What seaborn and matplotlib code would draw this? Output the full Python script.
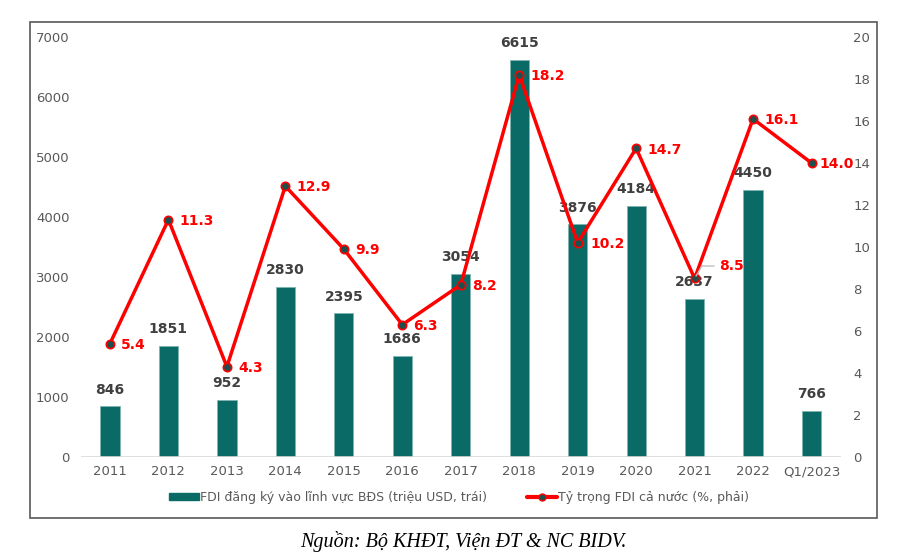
import matplotlib
matplotlib.use("Agg")
import matplotlib.pyplot as plt
import seaborn as sns
import pandas as pd
import numpy as np
from matplotlib.patches import Rectangle, Patch
from matplotlib.lines import Line2D

# data
years = ['2011', '2012', '2013', '2014', '2015', '2016', '2017', '2018',
         '2019', '2020', '2021', '2022', 'Q1/2023']
fdi_bds = [846, 1851, 952, 2830, 2395, 1686, 3054, 6615, 3876, 4184, 2637, 4450, 766]
ty_trong = [5.4, 11.3, 4.3, 12.9, 9.9, 6.3, 8.2, 18.2, 10.2, 14.7, 8.5, 16.1, 14.0]

bar_color = '#0a6b66'
line_color = '#ff0000'
txt_color = '#595959'

sns.set_style('white')
plt.rcParams['font.family'] = ['DejaVu Sans']

df = pd.DataFrame({'Nam': years, 'FDI': fdi_bds, 'TyTrong': ty_trong})

fig = plt.figure(figsize=(9, 5.58), dpi=100)
ax = fig.add_axes([0.0897, 0.181, 0.8445, 0.7527])

sns.barplot(data=df, x='Nam', y='FDI', ax=ax, color=bar_color, width=0.33,
            edgecolor='#7fb5b1', linewidth=0.6, saturation=1)
ax.set_ylim(0, 7000)
ax.set_xlim(-0.5, len(years) - 0.5)
ax.set_yticks(range(0, 7001, 1000))
ax.set_xlabel('')
ax.set_ylabel('')
for s in ax.spines.values():
    s.set_visible(False)
ax.axhline(0, color='#d9d9d9', lw=1.2, zorder=1)
ax.tick_params(axis='y', length=0, pad=8, labelsize=9.5, labelcolor=txt_color)
ax.tick_params(axis='x', length=0, pad=6, labelsize=9.5, labelcolor=txt_color)

# bar labels
for i, v in enumerate(fdi_bds):
    ax.annotate(str(v), (i, v), xytext=(0, 7), textcoords='offset points',
                ha='center', va='bottom', fontsize=10, fontweight='bold', color='#404040')

ax2 = ax.twinx()
sns.lineplot(x=np.arange(len(years)), y=ty_trong, ax=ax2, color=line_color, lw=2.5,
             marker='o', markersize=6, markerfacecolor='#1f4f4c',
             markeredgecolor=line_color, markeredgewidth=1.2)
ax2.set_ylim(0, 20)
ax2.set_yticks(range(0, 21, 2))
for s in ax2.spines.values():
    s.set_visible(False)
ax2.tick_params(axis='y', length=0, pad=9, labelsize=9.5, labelcolor=txt_color)

offsets = {8: (9, -1), 10: (18, 9), 12: (6, -1)}
for i, v in enumerate(ty_trong):
    dx, dy = offsets.get(i, (8, -1))
    ax2.annotate(f'{v:.1f}', (i, v), xytext=(dx, dy), textcoords='offset points',
                 ha='left', va='center', fontsize=10, fontweight='bold', color=line_color)
# leader line for 2021 label
ax2.annotate('', (10, 8.5), xytext=(16, 9), textcoords='offset points',
             arrowprops=dict(arrowstyle='-', color='#bfbfbf', lw=1,
                             connectionstyle='angle,angleA=0,angleB=60'))

handles = [Patch(facecolor=bar_color, edgecolor=bar_color),
           Line2D([0], [0], color=line_color, lw=3, marker='o', markersize=5,
                  markerfacecolor='#1f4f4c', markeredgecolor=line_color)]
labels = ['FDI đăng ký vào lĩnh vực BĐS (triệu USD, trái)',
          'Tỷ trọng FDI cả nước (%, phải)']
fig.legend(handles, labels, loc='center', bbox_to_anchor=(0.51, 0.108), ncol=2,
           frameon=False, fontsize=9, labelcolor=txt_color, handlelength=2.4,
           handleheight=0.5, handletextpad=0.1, columnspacing=3.2)

# outer frame
fig.patches.append(Rectangle((0.0333, 0.0717), 0.9411, 0.8889, transform=fig.transFigure,
                             fill=False, edgecolor='#595959', lw=1.2))

fig.text(0.515, 0.03, 'Nguồn: Bộ KHĐT, Viện ĐT & NC BIDV.', ha='center', va='center',
         fontsize=14.5, style='italic', family='Liberation Serif', color='black')

fig.savefig('out.png', dpi=100)
